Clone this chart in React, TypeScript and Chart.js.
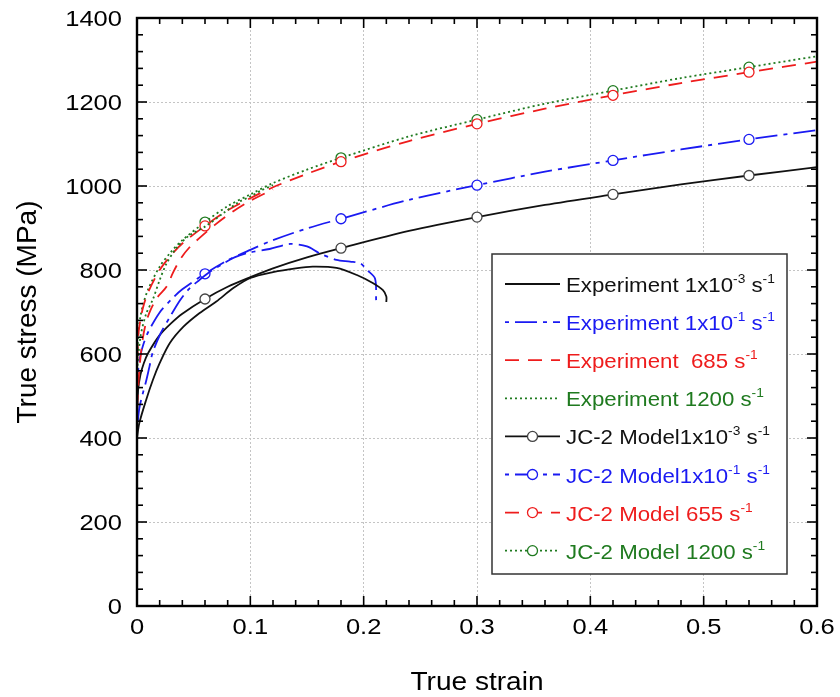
import React, { useEffect, useRef } from 'react';
import { Chart, registerables } from 'chart.js';

Chart.register(...registerables);

// ---------- data ----------
const modelStrain = [0, 0.001, 0.003, 0.006, 0.01, 0.02, 0.03, 0.04, 0.06, 0.08, 0.1, 0.12, 0.15, 0.18, 0.24, 0.3, 0.36, 0.42, 0.48, 0.54, 0.6];
const modelBlack = [431, 515, 550, 578, 603, 645, 673, 696, 731, 760, 783, 804, 830, 852, 893, 926, 955, 980, 1004, 1025, 1045];
const modelBlue = [467, 558, 596, 626, 653, 699, 729, 754, 791, 823, 848, 871, 899, 922, 967, 1002, 1034, 1061, 1087, 1111, 1133];
const modelRed = [534, 639, 682, 717, 748, 800, 835, 863, 905, 942, 971, 997, 1029, 1058, 1107, 1148, 1184, 1216, 1245, 1271, 1296];
const modelGreen = [540, 645, 689, 724, 755, 808, 843, 871, 914, 952, 980, 1007, 1039, 1067, 1118, 1158, 1196, 1227, 1257, 1283, 1309];
const markerStrains = [0.06, 0.18, 0.3, 0.42, 0.54];

const expBlackStrain = [0, 0.002, 0.008, 0.014, 0.02, 0.029, 0.041, 0.055, 0.07, 0.085, 0.1, 0.12, 0.14, 0.155, 0.176, 0.194, 0.208, 0.217, 0.22, 0.22];
const expBlackStress = [400, 435, 490, 538, 578, 626, 665, 697, 725, 757, 781, 795, 804, 808, 805, 788, 769, 752, 737, 724];

const expBlueStrain = [0, 0.002, 0.005, 0.008, 0.011, 0.014, 0.021, 0.029, 0.038, 0.046, 0.055, 0.064, 0.074, 0.086, 0.1, 0.117, 0.135, 0.15, 0.161, 0.176, 0.188, 0.197, 0.203, 0.21, 0.211];
const expBlueStress = [415, 470, 505, 535, 570, 605, 650, 688, 728, 755, 776, 795, 812, 830, 842, 850, 862, 856, 840, 824, 820, 816, 800, 780, 728];

const expRedStrain = [0, 0.002, 0.005, 0.008, 0.012, 0.018, 0.026, 0.032, 0.039, 0.046, 0.055, 0.069, 0.085, 0.1, 0.12];
const expRedStress = [470, 560, 635, 675, 705, 735, 760, 795, 829, 853, 876, 908, 940, 965, 992];

const expGreenStrain = [0, 0.003, 0.008, 0.014, 0.02, 0.026, 0.035, 0.046, 0.061, 0.076, 0.09, 0.1, 0.11, 0.12];
const expGreenStress = [560, 640, 695, 730, 776, 815, 853, 882, 905, 935, 962, 975, 990, 1002];

const xTickValues = [0, 0.1, 0.2, 0.3, 0.4, 0.5, 0.6];
const xTickLabels = ['0', '0.1', '0.2', '0.3', '0.4', '0.5', '0.6'];
const yTickValues = [0, 200, 400, 600, 800, 1000, 1200, 1400];
const yTickLabels = ['0', '200', '400', '600', '800', '1000', '1200', '1400'];
const xMinorStep = 0.02;
const yMinorStep = 40;
const xTitle = 'True strain';
const yTitle = 'True stress (MPa)';

const BLACK = '#111111';
const BLUE = '#1a1af2';
const RED = '#ee1c1c';
const GREEN = '#1f7a1f';
const FONT = '"Liberation Sans", Arial, sans-serif';
const STRETCH = 1.16;
const LEGEND_STRETCH = 1.06;

type Part = [string, boolean];
const legendEntries: { parts: Part[]; color: string }[] = [
  { parts: [['Experiment 1x10', false], ['-3', true], [' s', false], ['-1', true]], color: BLACK },
  { parts: [['Experiment 1x10', false], ['-1', true], [' s', false], ['-1', true]], color: BLUE },
  { parts: [['Experiment  685 s', false], ['-1', true]], color: RED },
  { parts: [['Experiment 1200 s', false], ['-1', true]], color: GREEN },
  { parts: [['JC-2 Model1x10', false], ['-3', true], [' s', false], ['-1', true]], color: BLACK },
  { parts: [['JC-2 Model1x10', false], ['-1', true], [' s', false], ['-1', true]], color: BLUE },
  { parts: [['JC-2 Model 655 s', false], ['-1', true]], color: RED },
  { parts: [['JC-2 Model 1200 s', false], ['-1', true]], color: GREEN },
];

const pts = (xs: number[], ys: number[]) => xs.map((x, i) => ({ x, y: ys[i] }));

const DASH_BLUE = [4, 6, 22, 6];
const DASH_RED = [14, 9];
const DASH_DOT = [2, 3];

function makeDatasets() {
  const exp = (label: string, xs: number[], ys: number[], color: string, dash: number[]) => ({
    label,
    data: pts(xs, ys),
    borderColor: color,
    backgroundColor: color,
    borderWidth: 1.8,
    borderDash: dash,
    pointRadius: 0,
    tension: 0.3,
  });
  const model = (label: string, ys: number[], color: string, dash: number[]) => ({
    label,
    data: pts(modelStrain, ys),
    borderColor: color,
    backgroundColor: '#ffffff',
    borderWidth: 1.8,
    borderDash: dash,
    pointRadius: (ctx: any) => (markerStrains.includes(modelStrain[ctx.dataIndex]) ? 5 : 0),
    pointBorderColor: color === BLACK ? '#444444' : color,
    pointBackgroundColor: '#ffffff',
    pointBorderWidth: 1.3,
    tension: 0.3,
  });
  return [
    exp('Experiment 1x10-3', expBlackStrain, expBlackStress, BLACK, []),
    exp('Experiment 1x10-1', expBlueStrain, expBlueStress, BLUE, DASH_BLUE),
    exp('Experiment 685', expRedStrain, expRedStress, RED, DASH_RED),
    exp('Experiment 1200', expGreenStrain, expGreenStress, GREEN, DASH_DOT),
    model('JC-2 1x10-3', modelBlack, BLACK, []),
    model('JC-2 1x10-1', modelBlue, BLUE, DASH_BLUE),
    model('JC-2 655', modelRed, RED, DASH_RED),
    model('JC-2 1200', modelGreen, GREEN, DASH_DOT),
  ];
}

function stretchText(ctx: CanvasRenderingContext2D, text: string, x: number, y: number, align: CanvasTextAlign, sx: number) {
  ctx.save();
  ctx.translate(x, y);
  ctx.scale(sx, 1);
  ctx.textAlign = align;
  ctx.fillText(text, 0, 0);
  ctx.restore();
}

const framePlugin = {
  id: 'frameTicks',
  afterDatasetsDraw(chart: any) {
    const { ctx, chartArea, scales } = chart;
    const { left, right, top, bottom } = chartArea;
    const x = scales.x;
    const y = scales.y;
    ctx.save();
    ctx.setLineDash([]);
    ctx.strokeStyle = '#000';
    ctx.lineWidth = 1.6;
    const line = (a: number, b: number, c: number, d: number) => {
      ctx.beginPath();
      ctx.moveTo(a, b);
      ctx.lineTo(c, d);
      ctx.stroke();
    };
    const nx = Math.round((x.max - x.min) / xMinorStep);
    for (let i = 0; i <= nx; i++) {
      const px = x.getPixelForValue(x.min + i * xMinorStep);
      const len = i % 5 === 0 ? 10 : 6;
      line(px, bottom, px, bottom - len);
      line(px, top, px, top + len);
    }
    const ny = Math.round((y.max - y.min) / yMinorStep);
    for (let i = 0; i <= ny; i++) {
      const py = y.getPixelForValue(y.min + i * yMinorStep);
      const len = i % 5 === 0 ? 10 : 6;
      line(left, py, left + len, py);
      line(right, py, right - len, py);
    }
    ctx.lineWidth = 2.4;
    ctx.strokeRect(left, top, right - left, bottom - top);

    // tick labels
    ctx.fillStyle = '#000';
    ctx.textBaseline = 'middle';
    ctx.font = `22px ${FONT}`;
    yTickValues.forEach((v, i) => {
      stretchText(ctx, yTickLabels[i], left - 15, y.getPixelForValue(v) + 2, 'right', STRETCH);
    });
    xTickValues.forEach((v, i) => {
      stretchText(ctx, xTickLabels[i], x.getPixelForValue(v), bottom + 22, 'center', STRETCH);
    });
    // axis titles
    ctx.font = `26px ${FONT}`;
    stretchText(ctx, xTitle, (left + right) / 2, bottom + 77, 'center', 1.08);
    ctx.save();
    ctx.translate(28, (top + bottom) / 2);
    ctx.rotate(-Math.PI / 2);
    ctx.font = `28px ${FONT}`;
    ctx.textAlign = 'center';
    ctx.fillText(yTitle, 0, 0);
    ctx.restore();
    ctx.restore();
  },
};

const legendPlugin = {
  id: 'customLegend',
  afterDraw(chart: any) {
    const { ctx, chartArea } = chart;
    const boxR = chartArea.right - 30;
    const boxB = chartArea.bottom - 32;
    const boxW = 295;
    const boxH = 320;
    const boxL = boxR - boxW;
    const boxT = boxB - boxH;
    ctx.save();
    ctx.fillStyle = '#ffffff';
    ctx.fillRect(boxL, boxT, boxW, boxH);
    ctx.strokeStyle = '#333';
    ctx.lineWidth = 1.5;
    ctx.setLineDash([]);
    ctx.strokeRect(boxL, boxT, boxW, boxH);
    const datasets = chart.data.datasets;
    const rowStart = boxT + 30;
    const rowGap = 38.1;
    legendEntries.forEach((entry, i) => {
      const yy = rowStart + i * rowGap;
      const ds = datasets[i];
      const x0 = boxL + 13;
      const x1 = boxL + 68;
      ctx.strokeStyle = ds.borderColor;
      ctx.lineWidth = 1.8;
      ctx.setLineDash(ds.borderDash || []);
      ctx.beginPath();
      ctx.moveTo(x0, yy);
      ctx.lineTo(x1, yy);
      ctx.stroke();
      ctx.setLineDash([]);
      if (i >= 4) {
        ctx.beginPath();
        ctx.arc((x0 + x1) / 2, yy, 5, 0, Math.PI * 2);
        ctx.fillStyle = '#fff';
        ctx.fill();
        ctx.strokeStyle = ds.pointBorderColor;
        ctx.lineWidth = 1.3;
        ctx.stroke();
      }
      let tx = boxL + 74;
      ctx.fillStyle = entry.color;
      ctx.textBaseline = 'alphabetic';
      entry.parts.forEach(([text, sup]) => {
        ctx.font = sup ? `13px ${FONT}` : `21px ${FONT}`;
        const by = sup ? yy - 1 : yy + 8;
        stretchText(ctx, text, tx, by, 'left', LEGEND_STRETCH);
        tx += ctx.measureText(text).width * LEGEND_STRETCH;
      });
    });
    ctx.restore();
  },
};

export default function App() {
  const ref = useRef<HTMLCanvasElement | null>(null);
  useEffect(() => {
    if (!ref.current) return;
    const chart = new Chart(ref.current, {
      type: 'line',
      data: { datasets: makeDatasets() as any },
      plugins: [framePlugin, legendPlugin],
      options: {
        animation: false,
        responsive: false,
        devicePixelRatio: 1,
        layout: { padding: { left: 0, top: 18, right: 23, bottom: 0 } },
        plugins: { legend: { display: false }, tooltip: { enabled: false } },
        scales: {
          x: {
            type: 'linear',
            min: 0,
            max: 0.6,
            afterFit: (s: any) => {
              s.height = 91;
            },
            afterBuildTicks: (s: any) => {
              s.ticks = xTickValues.map((v) => ({ value: v }));
            },
            ticks: { display: false },
            grid: { color: '#c4c4c4', lineWidth: 1, drawTicks: false },
            border: { display: false, dash: [2, 2] },
            title: { display: false },
          },
          y: {
            type: 'linear',
            min: 0,
            max: 1400,
            afterFit: (s: any) => {
              s.width = 137;
            },
            afterBuildTicks: (s: any) => {
              s.ticks = yTickValues.map((v) => ({ value: v }));
            },
            ticks: { display: false },
            grid: { color: '#c4c4c4', lineWidth: 1, drawTicks: false },
            border: { display: false, dash: [2, 2] },
            title: { display: false },
          },
        },
      },
    });
    return () => chart.destroy();
  }, []);
  return (
    <div style={{ position: 'absolute', left: 0, top: 0, width: 840, height: 697, background: '#fff' }}>
      <canvas ref={ref} width={840} height={697} style={{ display: 'block' }} />
    </div>
  );
}
